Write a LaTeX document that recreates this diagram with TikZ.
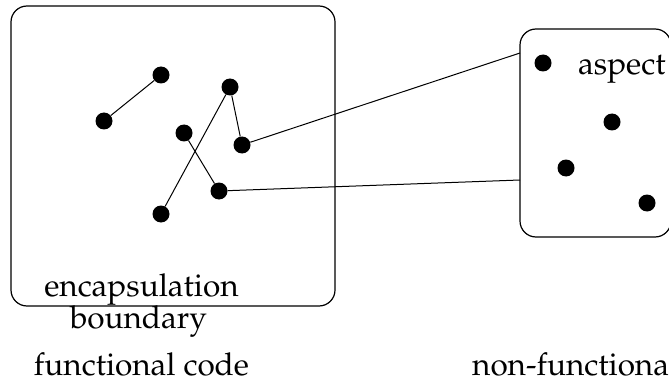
\documentclass[tikz,border=0pt]{standalone}
\usepackage[T1]{fontenc}
\usepackage{mathpazo}
\begin{document}
\begin{tikzpicture}[x=1pt,y=-1pt,
  dot/.style={circle,fill=black,draw=none,minimum size=17pt,inner sep=0pt},
  link/.style={draw=black,line width=1pt},
  boundary/.style={draw=black,line width=1.2pt,rounded corners=16pt},
  lbl/.style={font=\fontsize{31.5}{36}\selectfont,inner sep=0pt}]
\useasboundingbox (0,0) rectangle (669,385);
\clip (0,0) rectangle (669,385);

% functional code module
\draw[boundary] (11,6) rectangle (335,306);
\node[dot] (a) at (161,75) {};
\node[dot] (b) at (104,121) {};
\node[dot] (c) at (230,87) {};
\node[dot] (d) at (184,133) {};
\node[dot] (e) at (242,145) {};
\node[dot] (f) at (219,191) {};
\node[dot] (g) at (161,214) {};
\draw[link] (a) -- (b);
\draw[link] (c) -- (g);
\draw[link] (c) -- (e);
\draw[link] (d) -- (f);

% aspect module
\draw[boundary] (520,29) rectangle (671,237);
\node[dot] (p) at (543,63) {};
\node[dot] (q) at (612,122) {};
\node[dot] (r) at (566,168) {};
\node[dot] (s) at (647,203) {};
\coordinate (j1) at (520,53);
\coordinate (j2) at (520,180);
\draw[link] (e) -- (j1);
\draw[link] (f) -- (j2);

% labels
\node[lbl,anchor=base west] (asp) at (578,75) {aspect};
\node[lbl,anchor=base] (enc) at (141.5,296) {encapsulation};
\node[lbl,anchor=base] (bnd) at (138.5,328) {boundary};
\node[lbl,anchor=base] (fc) at (141.5,375) {functional code};
\node[lbl,anchor=base west] (nfc) at (472,375) {non-functional code};
\end{tikzpicture}
\end{document}
